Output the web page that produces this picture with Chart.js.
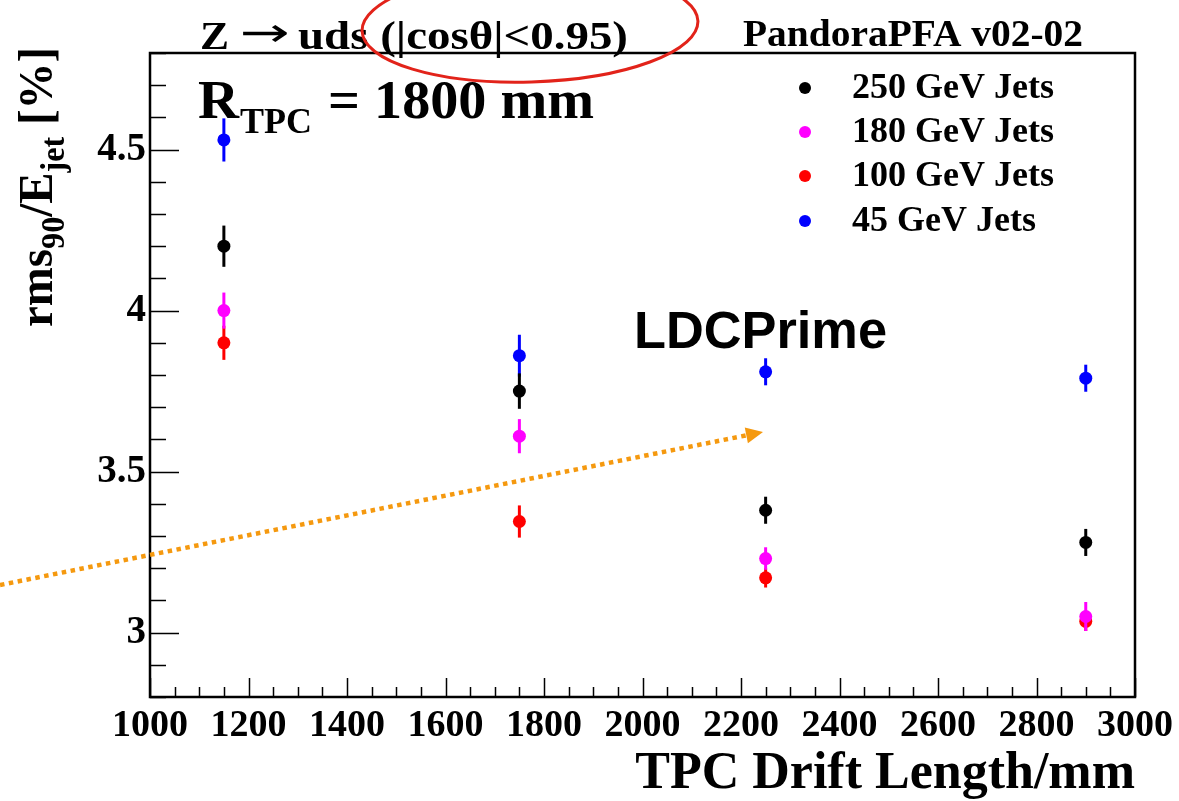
<!DOCTYPE html>
<html><head><meta charset="utf-8">
<script src="https://cdn.jsdelivr.net/npm/chart.js@4.4.0/dist/chart.umd.min.js"></script>
<style>html,body{margin:0;padding:0;background:#fff;}canvas{display:block}</style>
</head><body>
<canvas id="c" width="1179" height="801"></canvas>
<script>
// ---- data ----
const driftLength = [1150, 1750, 2250, 2900];
const jets250 = [4.20, 3.75, 3.38, 3.28];
const jets250Err = [0.064, 0.055, 0.042, 0.042];
const jets180 = [4.00, 3.61, 3.23, 3.05];
const jets180Err = [0.056, 0.053, 0.035, 0.045];
const jets100 = [3.90, 3.345, 3.17, 3.035];
const jets100Err = [0.053, 0.05, 0.03, 0.03];
const jets45 = [4.53, 3.86, 3.81, 3.79];
const jets45Err = [0.067, 0.065, 0.042, 0.042];
const seriesLabels = ['250 GeV Jets', '180 GeV Jets', '100 GeV Jets', '45 GeV Jets'];
const seriesColors = ['#000000', '#ff00ff', '#ff0000', '#0000ff'];
const xTickLabels = [1000, 1200, 1400, 1600, 1800, 2000, 2200, 2400, 2600, 2800, 3000];
const yTickLabels = [3, 3.5, 4, 4.5];
const xMinorStep = 50, yMinorStep = 0.1;

const SERIF = "'Liberation Serif', 'DejaVu Serif', serif";
const SANS = "'Liberation Sans', Arial, sans-serif";

function pts(xs, ys) { return xs.map((x, i) => ({ x: x, y: ys[i] })); }
const values = [jets250, jets180, jets100, jets45];
const errors = [jets250Err, jets180Err, jets100Err, jets45Err];

const datasets = values.map((v, i) => ({
  label: seriesLabels[i],
  data: pts(driftLength, v),
  errors: errors[i],
  backgroundColor: seriesColors[i],
  borderColor: seriesColors[i],
  pointRadius: 6.5,
  pointBorderWidth: 0,
  showLine: false
}));

function drawFit(ctx, text, x, y, font, width, align) {
  ctx.save();
  ctx.font = font;
  const w = ctx.measureText(text).width;
  const s = width ? width / w : 1;
  ctx.translate(x, y);
  ctx.scale(s, 1);
  ctx.textAlign = align || 'left';
  ctx.textBaseline = 'alphabetic';
  ctx.fillText(text, 0, 0);
  ctx.restore();
}

const errorBars = {
  id: 'errorBars',
  beforeDatasetDraw(chart, args) {
    const ds = chart.data.datasets[args.index];
    const ctx = chart.ctx, xs = chart.scales.x, ys = chart.scales.y;
    ctx.save();
    ctx.strokeStyle = ds.borderColor;
    ctx.lineWidth = 3;
    ds.data.forEach((p, i) => {
      const px = xs.getPixelForValue(p.x);
      ctx.beginPath();
      ctx.moveTo(px, ys.getPixelForValue(p.y - ds.errors[i]));
      ctx.lineTo(px, ys.getPixelForValue(p.y + ds.errors[i]));
      ctx.stroke();
    });
    ctx.restore();
  }
};

const frameAndDecor = {
  id: 'frameAndDecor',
  afterDraw(chart) {
    const ctx = chart.ctx, a = chart.chartArea, xs = chart.scales.x, ys = chart.scales.y;
    ctx.save();
    // frame
    ctx.strokeStyle = '#000';
    ctx.lineWidth = 2.5;
    ctx.strokeRect(a.left, a.top, a.right - a.left, a.bottom - a.top);
    // inward ticks
    ctx.lineWidth = 1.5;
    ctx.beginPath();
    for (let v = xs.min; v <= xs.max + 1e-6; v += xMinorStep) {
      const px = Math.round(xs.getPixelForValue(v)) + 0.5;
      const major = xTickLabels.includes(Math.round(v));
      ctx.moveTo(px, a.bottom);
      ctx.lineTo(px, a.bottom - (major ? 19 : 10));
    }
    for (let v = ys.min; v <= ys.max + 1e-6; v += yMinorStep) {
      const py = Math.round(ys.getPixelForValue(v)) + 0.5;
      const major = yTickLabels.some(t => Math.abs(t - v) < 1e-6);
      ctx.moveTo(a.left, py);
      ctx.lineTo(a.left + (major ? 29 : 16), py);
    }
    ctx.stroke();

    ctx.fillStyle = '#000';
    // titles
    drawFit(ctx, 'Z', 200, 49, 'bold 40px ' + SERIF, 29, 'left');
    drawFit(ctx, '\u2192', 240, 46, '40px ' + "'DejaVu Sans', sans-serif", 50, 'left');
    drawFit(ctx, 'uds (|cos\u03b8|<0.95)', 298, 49, 'bold 40px ' + SERIF, 330, 'left');
    drawFit(ctx, 'PandoraPFA v02-02', 743, 46, 'bold 37px ' + SERIF, 340, 'left');
    drawFit(ctx, 'R', 198, 118, 'bold 55px ' + SERIF, 41, 'left');
    drawFit(ctx, 'TPC', 240, 133, 'bold 36px ' + SERIF, 72, 'left');
    drawFit(ctx, '= 1800 mm', 328, 118, 'bold 55px ' + SERIF, 266, 'left');
    drawFit(ctx, 'LDCPrime', 634, 348, 'bold 51px ' + SANS, 253, 'left');

    // y axis title (rotated, with subscripts)
    ctx.save();
    ctx.translate(52, 0);
    ctx.rotate(-Math.PI / 2);
    const parts = [
      { t: 'rms', f: 'bold 48px ' + SERIF, dy: 0 },
      { t: '90', f: 'bold 33px ' + SERIF, dy: 12 },
      { t: '/E', f: 'bold 48px ' + SERIF, dy: 0 },
      { t: 'jet', f: 'bold 33px ' + SERIF, dy: 12 },
      { t: ' [%]', f: 'bold 48px ' + SERIF, dy: 0 }
    ];
    let total = 0;
    parts.forEach(p => { ctx.font = p.f; p.w = ctx.measureText(p.t).width; total += p.w; });
    const sc = 280 / total;
    ctx.translate(-47 - 280, 0);
    ctx.scale(sc, 1);
    let cx = 0;
    ctx.textBaseline = 'alphabetic';
    ctx.textAlign = 'left';
    parts.forEach(p => { ctx.font = p.f; ctx.fillText(p.t, cx, p.dy); cx += p.w; });
    ctx.restore();

    // legend
    const legendY = [88, 132, 176, 221];
    chart.data.datasets.forEach((ds, i) => {
      ctx.fillStyle = ds.backgroundColor;
      ctx.beginPath();
      ctx.arc(805, legendY[i], 6, 0, Math.PI * 2);
      ctx.fill();
      ctx.fillStyle = '#000';
      ctx.font = 'bold 36px ' + SERIF;
      ctx.textBaseline = 'middle';
      ctx.fillText(ds.label, 852, legendY[i] + 1);
    });

    // annotation: dotted orange arrow
    ctx.strokeStyle = '#f5990f';
    ctx.fillStyle = '#f5990f';
    ctx.lineWidth = 4.5;
    ctx.setLineDash([4.5, 4.5]);
    const x0 = 0, y0 = 585, x1 = 763, y1 = 432;
    const ang = Math.atan2(y1 - y0, x1 - x0);
    const hl = 17;
    ctx.beginPath();
    ctx.moveTo(x0, y0);
    ctx.lineTo(x1 - hl * Math.cos(ang), y1 - hl * Math.sin(ang));
    ctx.stroke();
    ctx.setLineDash([]);
    ctx.beginPath();
    ctx.moveTo(x1, y1);
    ctx.lineTo(x1 - hl * Math.cos(ang) + 8 * Math.sin(ang), y1 - hl * Math.sin(ang) - 8 * Math.cos(ang));
    ctx.lineTo(x1 - hl * Math.cos(ang) - 8 * Math.sin(ang), y1 - hl * Math.sin(ang) + 8 * Math.cos(ang));
    ctx.closePath();
    ctx.fill();

    // annotation: red ellipse
    ctx.strokeStyle = '#e2231a';
    ctx.lineWidth = 3;
    ctx.beginPath();
    ctx.ellipse(530, 26, 168, 56, -0.03, 0, Math.PI * 2);
    ctx.stroke();
    ctx.restore();
  }
};

new Chart(document.getElementById('c'), {
  type: 'scatter',
  data: { datasets: datasets },
  options: {
    responsive: false,
    animation: false,
    devicePixelRatio: 1,
    layout: { padding: { top: 53, right: 42, left: 0, bottom: 0 } },
    plugins: { legend: { display: false }, tooltip: { enabled: false } },
    scales: {
      x: {
        type: 'linear', min: 1000, max: 3000,
        afterBuildTicks: s => { s.ticks = xTickLabels.map(v => ({ value: v })); },
        afterFit: s => { s.height = 104; },
        grid: { display: false, drawTicks: false },
        border: { display: false },
        ticks: {
          callback: v => String(v), color: '#000', padding: 6,
          autoSkip: false, maxRotation: 0, minRotation: 0,
          font: { family: SERIF, weight: 'bold', size: 38 }
        },
        title: {
          display: true, text: 'TPC Drift Length/mm', align: 'end', color: '#000',
          font: { family: SERIF, weight: 'bold', size: 52, lineHeight: 1 },
          padding: { top: 0, bottom: 0 }
        }
      },
      y: {
        type: 'linear', min: 2.8, max: 4.8,
        afterBuildTicks: s => { s.ticks = yTickLabels.map(v => ({ value: v })); },
        afterFit: s => { s.width = 150; },
        grid: { display: false, drawTicks: false },
        border: { display: false },
        ticks: {
          callback: v => String(v), color: '#000', padding: 4,
          font: { family: SERIF, weight: 'bold', size: 39 }
        }
      }
    }
  },
  plugins: [errorBars, frameAndDecor]
});
</script>
</body></html>
